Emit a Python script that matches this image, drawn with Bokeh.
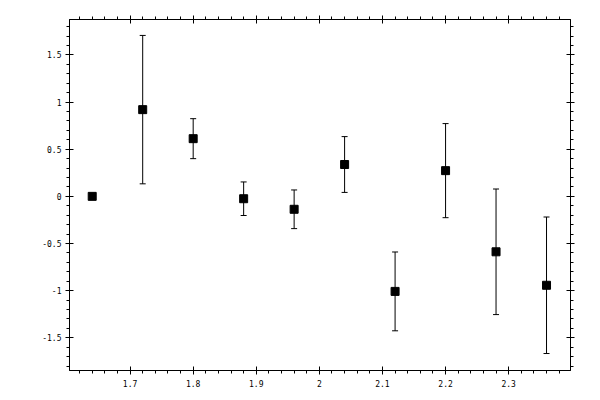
from bokeh.plotting import figure
from bokeh.models import (ColumnDataSource, Range1d, LinearAxis, SingleIntervalTicker,
                          CustomJSTickFormatter, Whisker, TeeHead)
from bokeh.embed import file_html
from bokeh.resources import INLINE

x_vals = [1.64, 1.72, 1.80, 1.88, 1.96, 2.04, 2.12, 2.20, 2.28, 2.36]
y_vals = [0.0, 0.92, 0.612, -0.025, -0.137, 0.338, -1.008, 0.273, -0.588, -0.943]
y_err = [0.0, 0.787, 0.212, 0.178, 0.205, 0.296, 0.418, 0.499, 0.666, 0.724]

lower = [y - e for y, e in zip(y_vals, y_err)]
upper = [y + e for y, e in zip(y_vals, y_err)]
src = ColumnDataSource(dict(x=x_vals, y=y_vals, lower=lower, upper=upper))

W, H = 592, 392
p = figure(width=W, height=H, output_backend="svg", toolbar_location=None,
           x_range=Range1d(1.604, 2.398), y_range=Range1d(-1.847, 1.876),
           x_axis_location=None, y_axis_location=None,
           min_border_left=69, min_border_top=19, min_border_right=22, min_border_bottom=22)
p.xgrid.visible = False
p.ygrid.visible = False
p.outline_line_color = "black"
p.outline_line_width = 1
p.background_fill_color = "white"
p.border_fill_color = "white"

fmt_code = "return String(Number(tick.toFixed(2)));"
FONT = "DejaVu Sans Mono"

def make_axis(interval, labels):
    ax = LinearAxis(ticker=SingleIntervalTicker(interval=interval, num_minor_ticks=5))
    ax.axis_line_color = "black"
    ax.major_tick_line_color = "black"
    ax.minor_tick_line_color = "black"
    ax.major_tick_in = 4
    ax.major_tick_out = 4
    ax.minor_tick_in = 0
    ax.minor_tick_out = 3
    if labels:
        ax.formatter = CustomJSTickFormatter(code=fmt_code)
        ax.major_label_text_font = FONT
        ax.major_label_text_font_size = "8px"
        ax.major_label_text_color = "black"
    else:
        ax.formatter = CustomJSTickFormatter(code="return '';")
        ax.major_label_text_font_size = "0px"
    return ax

bx = make_axis(0.1, True)
bx.major_label_standoff = 5
p.add_layout(bx, "below")
tx = make_axis(0.1, False)
tx.major_label_standoff = 0
p.add_layout(tx, "above")
ly = make_axis(0.5, True)
ly.major_label_standoff = 4
p.add_layout(ly, "left")
ry = make_axis(0.5, False)
ry.major_label_standoff = 0
p.add_layout(ry, "right")

wh = Whisker(source=src, base="x", lower="lower", upper="upper", dimension="height",
             line_color="black", line_width=1,
             lower_head=TeeHead(size=6, line_color="black", line_width=1),
             upper_head=TeeHead(size=6, line_color="black", line_width=1))
p.add_layout(wh)

p.scatter("x", "y", source=src, marker="square", size=8,
          fill_color="black", line_color="black")

open("out.html", "w").write(file_html(p, INLINE))
